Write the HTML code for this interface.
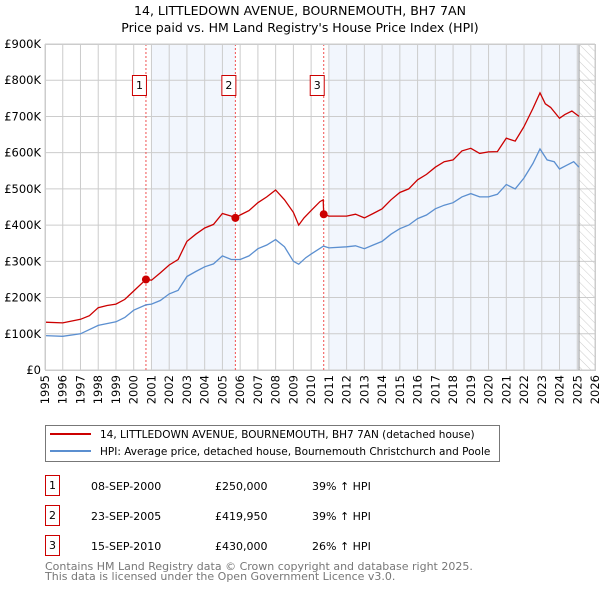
<!DOCTYPE html>
<html><head><meta charset="utf-8"><style>
body{margin:0;background:#fff;font-family:"DejaVu Sans","Liberation Sans",sans-serif;}
svg text{font-family:"DejaVu Sans","Liberation Sans",sans-serif;}
</style></head><body>
<svg id="chart" width="600" height="590" xmlns="http://www.w3.org/2000/svg">
<defs><pattern id="hatch" width="6" height="6" patternUnits="userSpaceOnUse" patternTransform="rotate(-45)"><line x1="0" y1="0" x2="0" y2="6" stroke="#ccc" stroke-width="1"/></pattern></defs>
<text x="300" y="15" text-anchor="middle" font-size="12.5">14, LITTLEDOWN AVENUE, BOURNEMOUTH, BH7 7AN</text>
<text x="300" y="32" text-anchor="middle" font-size="12.5">Price paid vs. HM Land Registry's House Price Index (HPI)</text>
<g id="plot"></g>
<g>
<rect x="45.5" y="425.5" width="454" height="36" fill="#fff" stroke="#777"/>
<line x1="50" y1="434" x2="91" y2="434" stroke="#cc0000" stroke-width="2"/>
<text x="100" y="438" font-size="10.5">14, LITTLEDOWN AVENUE, BOURNEMOUTH, BH7 7AN (detached house)</text>
<line x1="50" y1="451" x2="91" y2="451" stroke="#5b8fd0" stroke-width="2"/>
<text x="100" y="455" font-size="10.5">HPI: Average price, detached house, Bournemouth Christchurch and Poole</text>
</g>
<g id="table"></g>
<text x="45" y="570" font-size="11" fill="#777">Contains HM Land Registry data © Crown copyright and database right 2025.</text>
<text x="45" y="580" font-size="11" fill="#777">This data is licensed under the Open Government Licence v3.0.</text>
</svg>
<script>
const yearTicks=[1995,1996,1997,1998,1999,2000,2001,2002,2003,2004,2005,2006,2007,2008,2009,2010,2011,2012,2013,2014,2015,2016,2017,2018,2019,2020,2021,2022,2023,2024,2025,2026];
const priceTicks=[0,100000,200000,300000,400000,500000,600000,700000,800000,900000];
const priceTickLabels=["£0","£100K","£200K","£300K","£400K","£500K","£600K","£700K","£800K","£900K"];
const redX=[1995,1996,1997,1997.5,1998,1998.5,1999,1999.5,2000,2000.69,2001,2001.5,2002,2002.5,2003,2003.5,2004,2004.5,2005,2005.5,2005.73,2006,2006.5,2007,2007.5,2008,2008.5,2009,2009.3,2009.6,2010,2010.5,2010.68,2010.71,2011,2012,2012.5,2013,2013.5,2014,2014.5,2015,2015.5,2016,2016.5,2017,2017.5,2018,2018.5,2019,2019.5,2020,2020.5,2021,2021.5,2022,2022.5,2022.9,2023.2,2023.5,2024,2024.3,2024.7,2025.1];
const redY=[132,130,140,150,172,178,182,195,218,250,248,268,290,305,355,375,392,402,432,425,420,428,440,462,478,497,470,435,400,420,440,465,470,430,425,425,430,420,432,445,470,490,500,525,540,560,575,580,605,612,598,602,603,640,632,672,722,765,735,725,695,705,715,700];
const hpiX=[1995,1996,1997,1998,1999,1999.5,2000,2000.7,2001,2001.5,2002,2002.5,2003,2003.5,2004,2004.5,2005,2005.5,2006,2006.5,2007,2007.5,2008,2008.5,2009,2009.3,2009.7,2010,2010.7,2011,2012,2012.5,2013,2013.5,2014,2014.5,2015,2015.5,2016,2016.5,2017,2017.5,2018,2018.5,2019,2019.5,2020,2020.5,2021,2021.5,2022,2022.5,2022.9,2023.3,2023.7,2024,2024.4,2024.8,2025.1];
const hpiY=[95,93,100,123,133,145,165,180,182,192,210,220,258,272,285,293,315,305,305,315,335,345,360,340,300,292,310,320,342,337,340,343,335,345,355,375,390,400,418,428,445,455,462,478,487,478,478,485,512,500,530,570,610,580,575,555,565,575,560];
const saleLabels=["1","2","3"];
const saleYears=[2000.69,2005.73,2010.71];
const salePrices=[250000,419950,430000];
const saleDates=["08-SEP-2000","23-SEP-2005","15-SEP-2010"];
const salePriceText=["£250,000","£419,950","£430,000"];
const saleHpiText=["39% ↑ HPI","39% ↑ HPI","26% ↑ HPI"];

const NS="http://www.w3.org/2000/svg";
const X0=45,X1=595,Y0=370,Y1=44;
const xs=y=>X0+(y-1995)/(2026-1995)*(X1-X0);
const ys=v=>Y0-v/900000*(Y0-Y1);
function mk(parent,tag,attrs,txt){const e=document.createElementNS(NS,tag);for(const k in attrs)e.setAttribute(k,attrs[k]);if(txt!==undefined)e.textContent=txt;parent.appendChild(e);return e;}
const plot=document.getElementById('plot');
let r=mk(plot,'rect',{x:X0,y:Y1,width:X1-X0,height:Y0-Y1,fill:'#fff'});


r=mk(plot,'rect',{x:xs(2001),y:Y1,width:xs(saleYears[1])-xs(2001),height:Y0-Y1,fill:'#f2f6fd'});


r=mk(plot,'rect',{x:xs(2011),y:Y1,width:xs(2025.1)-xs(2011),height:Y0-Y1,fill:'#f2f6fd'});


r=mk(plot,'rect',{x:xs(2025.1),y:Y1,width:X1-xs(2025.1),height:Y0-Y1,fill:'url(#hatch)'});


yearTicks.forEach(y=>{const l=mk(plot,'line',{x1:xs(y),x2:xs(y),y1:Y1,y2:Y0,stroke:'#ccc'});


const t=mk(plot,'text',{x:0,y:0,'font-size':11.5,transform:`translate(${xs(y)+4},${Y0+5}) rotate(-90)`,'text-anchor':'end'},String(y));

});
priceTicks.forEach((p,i)=>{const l=mk(plot,'line',{x1:X0,x2:X1,y1:ys(p),y2:ys(p),stroke:'#ccc'});


const t=mk(plot,'text',{x:X0-4,y:ys(p)+4,'font-size':11.5,'text-anchor':'end'},priceTickLabels[i]);

});
let v=mk(plot,'line',{x1:xs(2025.1),x2:xs(2025.1),y1:Y1,y2:Y0,stroke:'#999'});


saleYears.forEach((y,i)=>{const l=mk(plot,'line',{x1:xs(y),x2:xs(y),y1:Y1,y2:Y0,stroke:'#f05050','stroke-dasharray':'2,2'});

});
function path(xa,ya){return xa.map((x,i)=>(i?'L':'M')+xs(x).toFixed(1)+','+ys(ya[i]*1000).toFixed(1)).join('');}
let p=mk(plot,'path',{d:path(hpiX,hpiY),fill:'none',stroke:'#5b8fd0','stroke-width':1.3});


p=mk(plot,'path',{d:path(redX,redY),fill:'none',stroke:'#cc0000','stroke-width':1.3});


saleYears.forEach((y,i)=>{const c=mk(plot,'circle',{cx:xs(y),cy:ys(salePrices[i]),r:4,fill:'#cc0000'});


const g=mk(plot,'g',{});


mk(g,'rect',{x:xs(y)-13.5,y:75.5,width:14,height:20,fill:'#fff',stroke:'#cc0000'});
mk(g,'text',{x:xs(y)-6.5,y:89,'font-size':11,'text-anchor':'middle'},saleLabels[i]);});
r=mk(plot,'rect',{x:X0+0.5,y:Y1+0.5,width:X1-X0,height:Y0-Y1,fill:'none',stroke:'#ccc'});


const tb=document.getElementById('table');
saleLabels.forEach((s,i)=>{const yy=493+i*30;const g=mk(tb,'g',{});


mk(g,'rect',{x:45.5,y:yy-17.5,width:14,height:20,fill:'#fff',stroke:'#cc0000'});
mk(g,'text',{x:52.5,y:yy-4,'font-size':11,'text-anchor':'middle'},s);
mk(g,'text',{x:91,y:yy-3,'font-size':11},saleDates[i]);
mk(g,'text',{x:215,y:yy-3,'font-size':11},salePriceText[i]);
mk(g,'text',{x:312,y:yy-3,'font-size':11},saleHpiText[i]);});
</script>
</body></html>
